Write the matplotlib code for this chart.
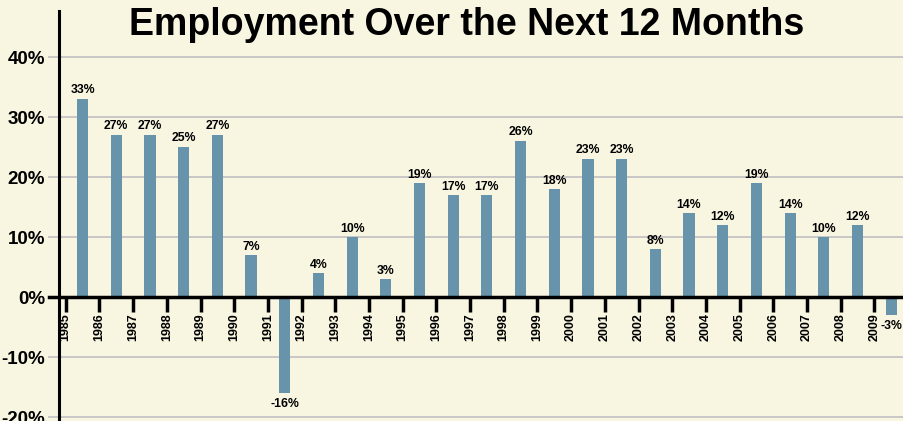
import matplotlib
matplotlib.use("Agg")
import matplotlib.pyplot as plt
import numpy as np

plt.rcParams['font.family'] = ['Liberation Sans', 'DejaVu Sans']

# Data
years = [str(y) for y in range(1985, 2010)]
values = [33, 27, 27, 25, 27, 7, -16, 4, 10, 3, 19, 17, 17, 26,
          18, 23, 23, 8, 14, 12, 19, 14, 10, 12, -3]
value_labels = [f"{v}%" for v in values]
y_ticks = [-20, -10, 0, 10, 20, 30, 40]
y_tick_labels = [f"{t}%" for t in y_ticks]

bg = "#F8F5E1"
bar_color = "#6794AA"

fig = plt.figure(figsize=(9.04, 4.21), dpi=100, facecolor=bg)
ax = fig.add_axes([59 / 904, 0, 845 / 904, 410 / 421], facecolor=bg)

x = np.arange(len(years))
bars = ax.bar(x + 0.5, values, width=0.33, color=bar_color, zorder=3)

ax.set_xlim(-0.2, 24.88)
ax.set_ylim(-20.6, 47.7)

# Gridlines (extend a bit left of the spine)
for t in y_ticks:
    if t != 0:
        ax.axhline(t, xmin=-10 / 845, xmax=1, color="#C4C4C4", lw=1.3,
                   clip_on=False, zorder=1)
ax.axhline(0, xmin=-10 / 845, xmax=1, color="black", lw=2.5,
           clip_on=False, zorder=4)

# Spines
for s in ["top", "right", "bottom"]:
    ax.spines[s].set_visible(False)
ax.spines["left"].set_linewidth(2.2)
ax.spines["left"].set_zorder(5)

# Y axis
ax.set_yticks(y_ticks)
ax.set_yticklabels(y_tick_labels, fontsize=13.5, fontweight="bold")
ax.tick_params(axis="y", length=0, pad=10)

# X axis: year ticks hang below the zero line
ax.set_xticks(x)
ax.set_xticklabels([])
ax.tick_params(axis="x", length=0)
for xi, yr in zip(x, years):
    ax.plot([xi, xi], [0, -2.4], color="black", lw=2.5, zorder=4,
            solid_capstyle="butt")
    ax.text(xi, -2.6, yr, rotation=90, ha="center", va="top",
            fontsize=9, fontweight="bold", zorder=4)

# Value labels
for xi, v, lab in zip(x, values, value_labels):
    if v >= 0:
        ax.annotate(lab, (xi + 0.5, v), xytext=(0, 2), textcoords="offset points",
                    ha="center", va="bottom", fontsize=8.8, fontweight="bold",
                    zorder=6)
    else:
        ax.annotate(lab, (xi + 0.5, v), xytext=(0, -3), textcoords="offset points",
                    ha="center", va="top", fontsize=8.8, fontweight="bold",
                    zorder=6, annotation_clip=False)

fig.text(0.516, 0.917, "Employment Over the Next 12 Months", ha="center",
         va="baseline", fontsize=27, fontweight="bold")

fig.savefig("out.png", dpi=100, facecolor=bg)
